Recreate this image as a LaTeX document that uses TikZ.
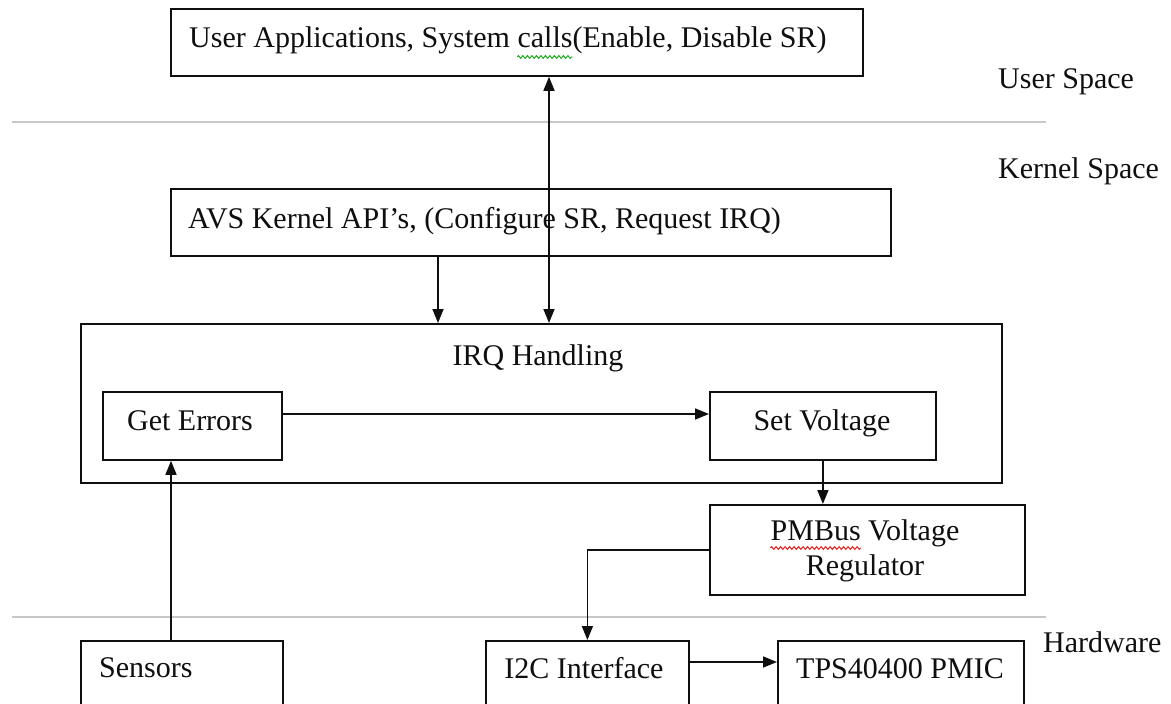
\documentclass[tikz,border=0pt]{standalone}
\usepackage{fontspec}
\setmainfont{Liberation Serif}
\usetikzlibrary{arrows.meta,decorations.pathmorphing,calc}
\definecolor{rulegray}{RGB}{200,200,200}
\definecolor{ink}{RGB}{15,15,15}
\definecolor{spellgreen}{RGB}{30,170,30}
\definecolor{spellred}{RGB}{235,30,30}
\newcommand\txtfont{\fontsize{30}{35}\selectfont}
% widths of the words that carry a spelling mark
\newlength\preW
\newlength\callsW
\newlength\pmbusW
\settowidth\preW{\txtfont User Applications, System }
\settowidth\callsW{\txtfont calls}
\settowidth\pmbusW{\txtfont PMBus}

\begin{document}
\begin{tikzpicture}[x=1pt,y=-1pt,
  box/.style={draw=ink,line width=1.8pt,inner sep=0pt,anchor=north west},
  txt/.style={inner sep=0pt,font=\txtfont,text=ink},
  conn/.style={draw=ink,line width=1.6pt},
  arr/.style={conn,-{Triangle[length=14pt,width=11pt]}},
  darr/.style={conn,{Triangle[length=14pt,width=11pt]}-{Triangle[length=14pt,width=11pt]}},
  divider/.style={draw=rulegray,line width=2pt},
  squig/.style={line width=1pt,decorate,decoration={zigzag,amplitude=1.4pt,segment length=4.5pt}}]

\fill[white] (0,0) rectangle (1171,704);
\useasboundingbox (0,0) rectangle (1171,704);

% layer dividers
\coordinate (dl1) at (12,122);
\coordinate (dr1) at (1046,122);
\coordinate (dl2) at (12,617);
\coordinate (dr2) at (1046,617);
\draw[divider] (dl1) -- (dr1);
\draw[divider] (dl2) -- (dr2);

% boxes
\node[box,minimum width=692,minimum height=67] (user) at (170,8) {};
\node[box,minimum width=720,minimum height=67] (avs) at (170,188) {};
\node[box,minimum width=921,minimum height=159] (irq) at (80,323) {};
\node[box,minimum width=179,minimum height=68] (get) at (102,391) {};
\node[box,minimum width=226,minimum height=68] (set) at (709,391) {};
\node[box,minimum width=315,minimum height=90] (pmbus) at (709,504) {};
\node[box,minimum width=202,minimum height=120] (sensors) at (80,640) {};
\node[box,minimum width=203,minimum height=120] (i2c) at (485,640) {};
\node[box,minimum width=246,minimum height=120] (tps) at (777,640) {};

% box texts
\node[txt,anchor=base west] (usertxt) at (189,47) {User Applications, System calls(Enable, Disable SR)};
\node[txt,anchor=base west] (avstxt) at (188,228) {AVS Kernel API’s, (Configure SR, Request IRQ)};
\node[txt,anchor=base] (irqtxt) at (538,365) {IRQ Handling};
\node[txt,anchor=base] (gettxt) at (190,430) {Get Errors};
\node[txt,anchor=base] (settxt) at (822,430) {Set Voltage};
\node[txt,anchor=base] (pmtxt) at (865,540) {PMBus Voltage};
\node[txt,anchor=base] (regtxt) at (865,575) {Regulator};
\node[txt,anchor=base west] (sentxt) at (99,677) {Sensors};
\node[txt,anchor=base] (i2ctxt) at (584,678) {I2C Interface};
\node[txt,anchor=base] (tpstxt) at (900,678) {TPS40400 PMIC};

% layer labels
\node[txt,anchor=base west] (lbluser) at (998,88) {User Space};
\node[txt,anchor=base west] (lblkernel) at (998,178) {Kernel Space};
\node[txt,anchor=base west] (lblhw) at (1043,652) {Hardware};

% spelling marks under words
\coordinate (gs) at ([xshift=\preW,yshift=-10pt]usertxt.base west);
\coordinate (ge) at ([xshift=\callsW]gs);
\draw[squig,draw=spellgreen] (gs) -- (ge);
\coordinate (rs) at ([yshift=-8pt]pmtxt.base west);
\coordinate (re) at ([xshift=\pmbusW]rs);
\draw[squig,draw=spellred] (rs) -- (re);

% connectors
\coordinate (xa) at (438,0);
\coordinate (xb) at (549,0);
\coordinate (xs) at (171,0);
\coordinate (ya) at (0,414);
\coordinate (yb) at (0,662);
\draw[arr] (avs.south -| xa) -- (irq.north -| xa);
\draw[darr] (user.south -| xb) -- (irq.north -| xb);
\draw[arr] (get.east |- ya) -- (set.west |- ya);
\draw[arr] (set.south) -- (set.south |- pmbus.north);
\draw[arr] (pmbus.west) -| (i2c.north);
\draw[arr] (sensors.north -| xs) -- (get.south -| xs);
\draw[arr] (i2c.east |- yb) -- (tps.west |- yb);
\end{tikzpicture}
\end{document}
